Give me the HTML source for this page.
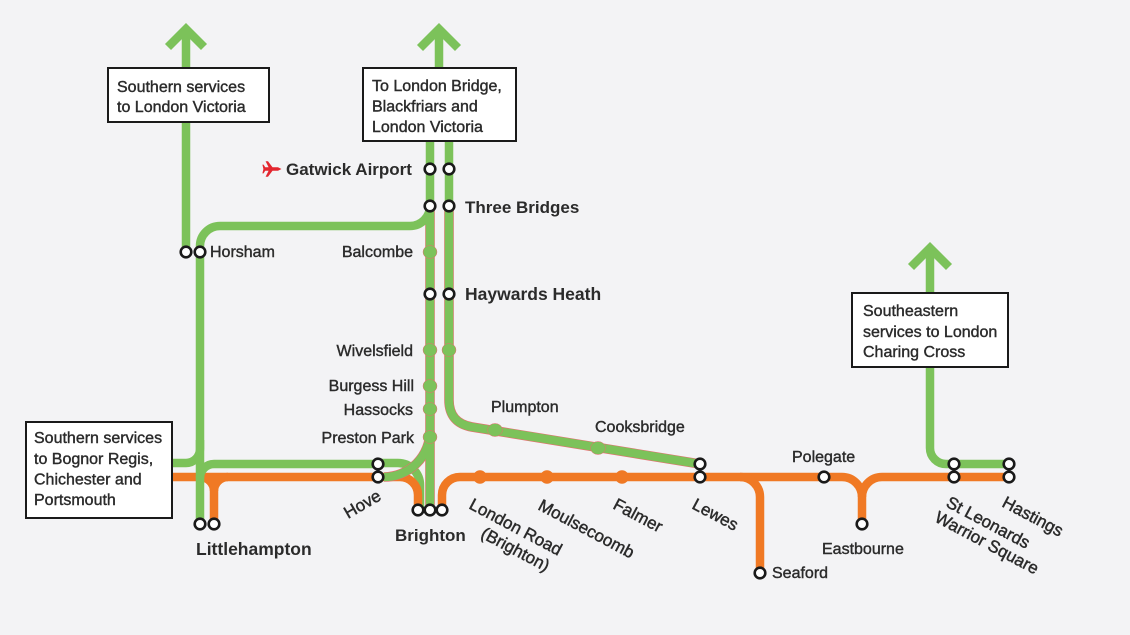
<!DOCTYPE html>
<html><head><meta charset="utf-8"><style>
html,body{margin:0;padding:0;background:#f3f3f5;}
svg{display:block;}
.g{fill:none;stroke:#7cc25a;stroke-width:8.5;}
.o{fill:none;stroke:#f07924;stroke-width:8.5;}
.r{fill:none;stroke:#ea6a70;stroke-width:9.6;}
.st{fill:#fff;stroke:#1a1a1a;stroke-width:2.6;}
text{font-family:"Liberation Sans",sans-serif;fill:#2b2b2b;}
.n{font-size:16px;stroke:#2b2b2b;stroke-width:0.4;}
.b{font-size:17px;font-weight:bold;}
.rt{font-size:17px;stroke:#2b2b2b;stroke-width:0.45;}
.box{fill:#fff;stroke:#1a1a1a;stroke-width:2;}
</style></head><body>
<svg width="1130" height="635" viewBox="0 0 1130 635" xmlns="http://www.w3.org/2000/svg">
<rect width="1130" height="635" fill="#f3f3f5"/>

<!-- green under orange at Hove/Brighton -->
<path class="g" d="M378 463 H398 A22 22 0 0 1 420 485 V508"/>

<!-- orange lines -->
<path class="o" d="M172 477 H400 A18 18 0 0 1 418 495 V510"/>
<path class="o" d="M200 477 A14 14 0 0 1 214 491 V524"/>
<path class="o" d="M228 477 A14 14 0 0 0 214 491"/>
<path class="o" d="M442 510 V495 A18 18 0 0 1 460 477 H842 A20 20 0 0 1 862 497 V524"/>
<path class="o" d="M1009 477 H882 A20 20 0 0 0 862 497"/>
<path class="o" d="M740 477 A20 20 0 0 1 760 497 V573"/>

<!-- red underlays -->
<path class="r" d="M430 208 V505"/>
<path class="r" d="M449 208 V400 Q449 423 472 427 L700 464"/>
<path class="r" d="M384 477 A46 46 0 0 0 430 431"/>

<!-- green lines -->
<path class="g" d="M186 252 V29"/>
<path class="g" d="M168 47 L186 29 L204 47"/>
<path class="g" d="M172 463 H186 A14 14 0 0 0 200 449 V440"/>
<path class="g" d="M200 524 V246 A20 20 0 0 1 220 226 H410 A20 20 0 0 0 430 206"/>
<path class="g" d="M200 478 A14 14 0 0 1 214 464 H378"/>
<path class="g" d="M439 68 V29"/>
<path class="g" d="M420 48 L439 29 L458 48"/>
<path class="g" d="M430 141 V510"/>
<path class="g" d="M449 141 V400 Q449 423 472 427 L700 464"/>
<path class="g" d="M384 477 A46 46 0 0 0 430 431"/>
<path class="g" d="M930 293 V248"/>
<path class="g" d="M911 267 L930 248 L949 267"/>
<path class="g" d="M930 367 V448 A16 16 0 0 0 946 464 H1009"/>

<!-- filled green dots -->
<g fill="#7cc25a" stroke="#ea6a70" stroke-width="0.5">
<ellipse cx="430" cy="252" rx="7" ry="6.5"/>
<ellipse cx="430" cy="350" rx="7" ry="6.5"/>
<ellipse cx="449" cy="350" rx="7" ry="6.5"/>
<ellipse cx="430" cy="386" rx="7" ry="6.5"/>
<ellipse cx="430" cy="409" rx="7" ry="6.5"/>
<ellipse cx="430" cy="437" rx="7" ry="6.5"/>
<ellipse cx="495" cy="430" rx="7.5" ry="6.5"/>
<ellipse cx="598" cy="448" rx="7.5" ry="6.5"/>
</g>
<!-- filled orange dots -->
<g fill="#f07924">
<circle cx="480" cy="477" r="6.8"/>
<circle cx="547" cy="477" r="6.8"/>
<circle cx="622" cy="477" r="6.8"/>
</g>

<!-- interchange circles -->
<g class="st">
<circle cx="186" cy="252" r="5.3"/><circle cx="200" cy="252" r="5.3"/>
<circle cx="430" cy="169" r="5.3"/><circle cx="449" cy="169" r="5.3"/>
<circle cx="430" cy="206" r="5.3"/><circle cx="449" cy="206" r="5.3"/>
<circle cx="430" cy="294" r="5.3"/><circle cx="449" cy="294" r="5.3"/>
<circle cx="378" cy="464" r="5.3"/><circle cx="378" cy="477" r="5.3"/>
<circle cx="418" cy="510" r="5.3"/><circle cx="430" cy="510" r="5.3"/><circle cx="442" cy="510" r="5.3"/>
<circle cx="200" cy="524" r="5.3"/><circle cx="214" cy="524" r="5.3"/>
<circle cx="700" cy="464" r="5.3"/><circle cx="700" cy="477" r="5.3"/>
<circle cx="824" cy="477" r="5.3"/>
<circle cx="760" cy="573" r="5.3"/>
<circle cx="862" cy="524" r="5.3"/>
<circle cx="954" cy="464" r="5.3"/><circle cx="954" cy="477" r="5.3"/>
<circle cx="1009" cy="464" r="5.3"/><circle cx="1009" cy="477" r="5.3"/>
</g>

<!-- boxes -->
<rect class="box" x="108" y="68" width="161" height="54"/>
<text class="n" x="117" y="92">Southern services</text>
<text class="n" x="117" y="112">to London Victoria</text>

<rect class="box" x="363" y="68" width="153" height="73"/>
<text class="n" x="372" y="91">To London Bridge,</text>
<text class="n" x="372" y="111.5">Blackfriars and</text>
<text class="n" x="372" y="132">London Victoria</text>

<rect class="box" x="26" y="422" width="146" height="96"/>
<text class="n" x="34" y="443">Southern services</text>
<text class="n" x="34" y="464">to Bognor Regis,</text>
<text class="n" x="34" y="484.5">Chichester and</text>
<text class="n" x="34" y="505">Portsmouth</text>

<rect class="box" x="852" y="293" width="156" height="74"/>
<text class="n" x="863" y="316">Southeastern</text>
<text class="n" x="863" y="337">services to London</text>
<text class="n" x="863" y="357">Charing Cross</text>

<!-- plane -->
<path fill="#e3262f" d="M281.5 169 L278 167.3 L272.5 167.3 L268 161.3 L265.6 161.3 L268.6 167.3 L265.2 167.3 L263.6 164.6 L262.4 164.6 L263.4 169 L262.4 173.4 L263.6 173.4 L265.2 170.7 L268.6 170.7 L265.6 176.7 L268 176.7 L272.5 170.7 L278 170.7 Z"/>

<!-- bold labels -->
<text class="b" x="286" y="175">Gatwick Airport</text>
<text class="b" x="465" y="213">Three Bridges</text>
<text class="b" x="465" y="300" style="font-size:17.5px">Haywards Heath</text>
<text class="b" x="395" y="541">Brighton</text>
<text class="b" x="196" y="555" style="font-size:17.5px">Littlehampton</text>

<!-- regular labels -->
<text class="n" x="210" y="257">Horsham</text>
<text class="n" x="413" y="257" text-anchor="end">Balcombe</text>
<text class="n" x="413" y="356" text-anchor="end">Wivelsfield</text>
<text class="n" x="414" y="391" text-anchor="end">Burgess Hill</text>
<text class="n" x="413" y="415" text-anchor="end">Hassocks</text>
<text class="n" x="414" y="443" text-anchor="end">Preston Park</text>
<text class="n" x="491" y="412">Plumpton</text>
<text class="n" x="595" y="432">Cooksbridge</text>
<text class="n" x="792" y="462">Polegate</text>
<text class="n" x="822" y="554">Eastbourne</text>
<text class="n" x="772" y="578">Seaford</text>

<!-- rotated labels -->
<text class="rt" transform="translate(348 519) rotate(-30)">Hove</text>
<text class="rt" transform="translate(468 508) rotate(28)">London Road</text>
<text class="rt" transform="translate(468 508) rotate(28) translate(24 20)">(Brighton)</text>
<text class="rt" transform="translate(537 509) rotate(28)">Moulsecoomb</text>
<text class="rt" transform="translate(612 508) rotate(28)">Falmer</text>
<text class="rt" transform="translate(691 508) rotate(28)">Lewes</text>
<text class="rt" transform="translate(945 506) rotate(28)">St Leonards</text>
<text class="rt" transform="translate(945 506) rotate(28) translate(-3 18.5)">Warrior Square</text>
<text class="rt" transform="translate(1001 506) rotate(28)">Hastings</text>
</svg>
</body></html>
